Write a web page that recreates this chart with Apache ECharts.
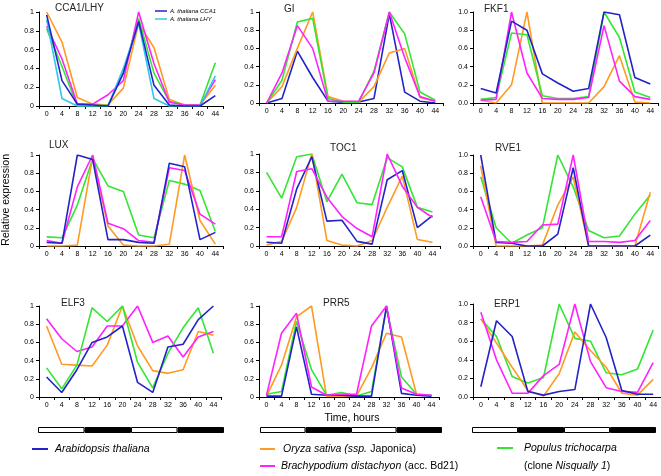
<!DOCTYPE html>
<html><head><meta charset="utf-8">
<script src="https://cdn.jsdelivr.net/npm/echarts@6/dist/echarts.min.js"></script>
<style>html,body{margin:0;padding:0;background:#fff}#c{width:661px;height:476px}</style>
</head><body><div id="c"></div>
<script>
const hours = ['0','4','8','12','16','20','24','28','32','36','40','44'];
const yTicks = [0,0.2,0.4,0.6,0.8,1];
const photoperiod = [12,12,12,12]; // light, dark, light, dark (hours)

// CCA1/LHY
const cca1_Ath_CCA1 = [0.97,0.27,0.02,0.01,0.00,0.35,0.90,0.22,0.01,0.00,0.00,0.11];
const cca1_Ath_LHY  = [0.92,0.08,0.00,0.00,0.00,0.40,0.88,0.08,0.00,0.00,0.00,0.32];
const cca1_Osa = [1.00,0.68,0.09,0.02,0.01,0.19,0.88,0.62,0.07,0.01,0.01,0.22];
const cca1_Bdi = [0.85,0.50,0.02,0.02,0.12,0.27,1.00,0.45,0.04,0.01,0.01,0.28];
const cca1_Ptr = [0.82,0.42,0.00,0.00,0.01,0.35,0.93,0.35,0.05,0.01,0.01,0.46];
// GI
const gi_Ath = [0.00,0.05,0.57,0.28,0.02,0.01,0.01,0.05,0.98,0.12,0.02,0.00];
const gi_Osa = [0.00,0.18,0.60,1.00,0.07,0.02,0.01,0.18,0.55,0.60,0.06,0.02];
const gi_Bdi = [0.00,0.33,0.85,0.60,0.02,0.02,0.02,0.33,1.00,0.50,0.07,0.02];
const gi_Ptr = [0.00,0.25,0.89,0.93,0.05,0.01,0.01,0.35,1.00,0.76,0.12,0.03];
// FKF1
const fkf1_Ath = [0.16,0.11,0.90,0.80,0.32,0.22,0.13,0.16,1.00,0.97,0.28,0.21];
const fkf1_Osa = [0.03,0.00,0.20,1.00,0.00,0.00,0.00,0.00,0.18,0.52,0.01,0.00];
const fkf1_Bdi = [0.03,0.04,1.00,0.33,0.05,0.04,0.04,0.06,0.85,0.24,0.07,0.04];
const fkf1_Ptr = [0.04,0.06,0.77,0.75,0.08,0.05,0.05,0.07,1.00,0.72,0.12,0.06];
// LUX
const lux_Ath = [0.04,0.03,1.00,0.95,0.07,0.07,0.04,0.03,0.91,0.87,0.07,0.15];
const lux_Osa = [0.00,0.00,0.01,0.98,0.22,0.01,0.00,0.00,0.02,1.00,0.28,0.02];
const lux_Bdi = [0.06,0.03,0.65,1.00,0.25,0.19,0.06,0.04,0.86,0.83,0.35,0.24];
const lux_Ptr = [0.10,0.09,0.45,0.96,0.66,0.60,0.12,0.09,0.72,0.68,0.61,0.16];
// TOC1
const toc1_Ath = [0.04,0.03,0.62,0.97,0.27,0.28,0.05,0.02,0.72,0.82,0.20,0.33];
const toc1_Osa = [0.01,0.05,0.42,1.00,0.06,0.01,0.00,0.06,0.42,0.76,0.07,0.04];
const toc1_Bdi = [0.10,0.10,0.81,0.84,0.53,0.32,0.19,0.10,1.00,0.65,0.42,0.31];
const toc1_Ptr = [0.80,0.52,0.97,1.00,0.48,0.78,0.47,0.45,0.96,0.86,0.42,0.37];
// RVE1
const rve1_Ath = [1.00,0.04,0.03,0.00,0.00,0.13,0.86,0.00,0.00,0.00,0.00,0.12];
const rve1_Osa = [0.88,0.00,0.00,0.00,0.01,0.45,0.76,0.00,0.00,0.00,0.00,0.59];
const rve1_Bdi = [0.54,0.05,0.04,0.05,0.23,0.24,1.00,0.05,0.05,0.04,0.06,0.28];
const rve1_Ptr = [0.76,0.20,0.03,0.12,0.20,1.00,0.65,0.17,0.09,0.11,0.35,0.56];
// ELF3
const elf3_Ath = [0.22,0.05,0.30,0.60,0.66,0.78,0.16,0.05,0.55,0.58,0.85,1.00];
const elf3_Osa = [0.78,0.36,0.35,0.34,0.57,1.00,0.56,0.29,0.26,0.30,0.72,0.68];
const elf3_Bdi = [0.86,0.64,0.50,0.55,0.78,0.78,1.00,0.60,0.67,0.44,0.66,0.72];
const elf3_Ptr = [0.32,0.09,0.35,0.98,0.83,1.00,0.38,0.10,0.48,0.76,0.98,0.48];
// PRR5
const prr5_Ath = [0.01,0.01,0.77,0.03,0.02,0.02,0.01,0.01,1.00,0.04,0.02,0.01];
const prr5_Osa = [0.01,0.35,0.88,1.00,0.01,0.01,0.01,0.32,0.70,0.66,0.03,0.02];
const prr5_Bdi = [0.02,0.70,0.92,0.11,0.02,0.03,0.03,0.78,1.00,0.10,0.03,0.02];
const prr5_Ptr = [0.03,0.06,0.83,0.30,0.02,0.05,0.01,0.06,0.98,0.22,0.03,0.02];
// ERP1
const erp1_Ath = [0.11,0.82,0.65,0.06,0.02,0.06,0.08,1.00,0.64,0.07,0.03,0.03];
const erp1_Osa = [0.84,0.58,0.32,0.07,0.01,0.25,0.70,0.50,0.32,0.04,0.02,0.19];
const erp1_Bdi = [0.91,0.40,0.04,0.04,0.23,0.35,1.00,0.38,0.10,0.06,0.05,0.37];
const erp1_Ptr = [0.84,0.65,0.22,0.15,0.21,1.00,0.63,0.60,0.26,0.24,0.30,0.72];

const C = {Ath:'#2323c8', AthLHY:'#33c6ee', Osa:'#ff9a22', Bdi:'#ff22ff', Ptr:'#33e633'};

const panels = [
  {name:'CCA1/LHY', g:{left:39,top:12,width:184,height:94}, t:[55,3], dec:false,
   s:[[cca1_Osa,'Osa'],[cca1_Ptr,'Ptr'],[cca1_Bdi,'Bdi'],[cca1_Ath_LHY,'AthLHY'],[cca1_Ath_CCA1,'Ath']]},
  {name:'GI', g:{left:259,top:12,width:184,height:91}, t:[284,4], dec:false,
   s:[[gi_Ath,'Ath'],[gi_Osa,'Osa'],[gi_Ptr,'Ptr'],[gi_Bdi,'Bdi']]},
  {name:'FKF1', g:{left:473,top:12,width:185,height:91}, t:[484,4], dec:true,
   s:[[fkf1_Osa,'Osa'],[fkf1_Ptr,'Ptr'],[fkf1_Bdi,'Bdi'],[fkf1_Ath,'Ath']]},
  {name:'LUX', g:{left:39,top:155,width:184,height:91}, t:[49,140], dec:false,
   s:[[lux_Ptr,'Ptr'],[lux_Osa,'Osa'],[lux_Bdi,'Bdi'],[lux_Ath,'Ath']]},
  {name:'TOC1', g:{left:259,top:154,width:181,height:92}, t:[330,143], dec:false,
   s:[[toc1_Ptr,'Ptr'],[toc1_Osa,'Osa'],[toc1_Ath,'Ath'],[toc1_Bdi,'Bdi']]},
  {name:'RVE1', g:{left:473,top:155,width:185,height:91}, t:[495,143], dec:true,
   s:[[rve1_Ptr,'Ptr'],[rve1_Osa,'Osa'],[rve1_Ath,'Ath'],[rve1_Bdi,'Bdi']]},
  {name:'ELF3', g:{left:39,top:306,width:182,height:91}, t:[61,298], dec:false,
   s:[[elf3_Osa,'Osa'],[elf3_Bdi,'Bdi'],[elf3_Ptr,'Ptr'],[elf3_Ath,'Ath']]},
  {name:'PRR5', g:{left:259,top:306,width:180,height:91}, t:[323,298], dec:false,
   s:[[prr5_Osa,'Osa'],[prr5_Ptr,'Ptr'],[prr5_Ath,'Ath'],[prr5_Bdi,'Bdi']]},
  {name:'ERP1', g:{left:473,top:304,width:188,height:93}, t:[494,299], dec:true,
   s:[[erp1_Ptr,'Ptr'],[erp1_Osa,'Osa'],[erp1_Bdi,'Bdi'],[erp1_Ath,'Ath']]}
];

const FONT = 'Liberation Sans, Arial, sans-serif';
const grid=[], xAxis=[], yAxis=[], series=[], title=[];
panels.forEach((p,i)=>{
  grid.push(Object.assign({containLabel:false}, p.g));
  title.push({text:p.name, left:p.t[0], top:p.t[1], padding:0,
    textStyle:{fontFamily:FONT, fontSize:10, fontWeight:'normal', color:'#222', lineHeight:11}});
  xAxis.push({type:'category', gridIndex:i, data:hours, boundaryGap:true,
    axisLine:{lineStyle:{color:'#000',width:1}},
    axisTick:{show:true, length:3, lineStyle:{color:'#000'}},
    axisLabel:{interval:0, fontSize:7, color:'#000', margin:5, fontFamily:FONT}});
  yAxis.push({type:'value', gridIndex:i, min:0, max:1, interval:0.2,
    splitLine:{show:false},
    axisLine:{show:true, lineStyle:{color:'#000',width:1}},
    axisTick:{show:true, length:3, lineStyle:{color:'#000'}},
    axisLabel:{fontSize:7, color:'#000', margin:5, fontFamily:FONT,
      formatter: p.dec ? (v=>v.toFixed(1)) : (v=>String(Math.round(v*10)/10))}});
  p.s.forEach(([d,k])=>{
    series.push({type:'line', xAxisIndex:i, yAxisIndex:i, data:d, symbol:'none',
      lineStyle:{color:C[k], width:1.6}, itemStyle:{color:C[k]}, silent:true});
  });
});

// photoperiod bars
const barGrids = [{left:38,width:186},{left:260,width:182},{left:472,width:184}];
barGrids.forEach((b,j)=>{
  const gi = grid.length;
  grid.push({left:b.left, width:b.width, top:427, height:6});
  xAxis.push({type:'value', gridIndex:gi, min:0, max:48, show:false});
  yAxis.push({type:'category', gridIndex:gi, data:['p'], show:false});
  photoperiod.forEach((v,k)=>{
    series.push({type:'bar', xAxisIndex:gi, yAxisIndex:gi, stack:'pp'+j, data:[v],
      barWidth:6, silent:true,
      itemStyle:{color: k%2===0 ? '#fff' : '#000', borderColor:'#000', borderWidth:1}});
  });
});

const F = '10.5px '+FONT, FI = 'italic 10.5px '+FONT;
const graphic = [
  {type:'text', left:1, top:154, rotation:Math.PI/2,
    style:{text:'Relative expression', font:F, fill:'#000'}},
  {type:'text', x:352, y:418, style:{text:'Time, hours', font:F, fill:'#000', align:'center', verticalAlign:'middle'}},
  // inner legend CCA1/LHY
  {type:'line', shape:{x1:155,y1:11,x2:167,y2:11}, style:{stroke:C.Ath, lineWidth:1.5}},
  {type:'text', x:170, y:11, style:{text:'A. thaliana CCA1', font:'italic 6px '+FONT, fill:'#000', verticalAlign:'middle'}},
  {type:'line', shape:{x1:155,y1:19,x2:167,y2:19}, style:{stroke:C.AthLHY, lineWidth:1.5}},
  {type:'text', x:170, y:19, style:{text:'A. thaliana LHY', font:'italic 6px '+FONT, fill:'#000', verticalAlign:'middle'}},
  // bottom legend
  {type:'line', shape:{x1:32,y1:449,x2:48,y2:449}, style:{stroke:C.Ath, lineWidth:2}},
  {type:'text', x:55, y:449, style:{text:'Arabidopsis thaliana', font:FI, fill:'#000', verticalAlign:'middle'}},
  {type:'line', shape:{x1:260,y1:449,x2:275,y2:449}, style:{stroke:C.Osa, lineWidth:2}},
  {type:'text', x:283, y:449, style:{text:'{i|Oryza sativa (ssp.} {n|Japonica)}', rich:{i:{font:FI, fill:'#000'}, n:{font:F, fill:'#000'}}, verticalAlign:'middle'}},
  {type:'line', shape:{x1:260,y1:466,x2:275,y2:466}, style:{stroke:C.Bdi, lineWidth:2}},
  {type:'text', x:281, y:466, style:{text:'{i|Brachypodium distachyon} {n|(acc. Bd21)}', rich:{i:{font:FI, fill:'#000'}, n:{font:F, fill:'#000'}}, verticalAlign:'middle'}},
  {type:'line', shape:{x1:497,y1:448,x2:513,y2:448}, style:{stroke:C.Ptr, lineWidth:2}},
  {type:'text', x:524, y:448, style:{text:'Populus trichocarpa', font:FI, fill:'#000', verticalAlign:'middle'}},
  {type:'text', x:524, y:466, style:{text:'{n|(clone }{i|Nisqually 1}{n|)}', rich:{i:{font:FI, fill:'#000'}, n:{font:F, fill:'#000'}}, verticalAlign:'middle'}}
];

const chart = echarts.init(document.getElementById('c'), null, {renderer:'canvas'});
chart.setOption({animation:false, backgroundColor:'#fff', title, grid, xAxis, yAxis, series, graphic});
</script></body></html>
